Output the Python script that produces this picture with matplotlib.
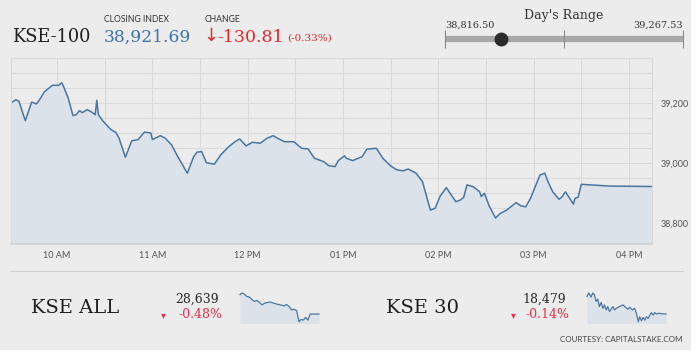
import matplotlib.pyplot as plt
import numpy as np

W, H = 696, 355

# KSE-100 intraday
kse100_time = ["09:31", "09:34", "09:36", "09:40", "09:44", "09:47", "09:49", "09:52", "09:55", "09:57",
               "10:01", "10:03", "10:04", "10:07", "10:10", "10:12", "10:14", "10:16", "10:19", "10:22",
               "10:24", "10:25", "10:26", "10:29", "10:34", "10:37", "10:39", "10:43", "10:47", "10:51",
               "10:55", "10:59", "11:00", "11:05", "11:08", "11:12", "11:16", "11:22", "11:26", "11:28",
               "11:31", "11:34", "11:39", "11:43", "11:48", "11:52", "11:55", "11:59", "12:03", "12:08",
               "12:12", "12:16", "12:19", "12:23", "12:29", "12:34", "12:38", "12:42", "12:48", "12:51",
               "12:55", "12:57", "13:01", "13:02", "13:06", "13:12", "13:15", "13:21", "13:25", "13:30",
               "13:34", "13:38", "13:41", "13:46", "13:50", "13:55", "13:58", "14:01", "14:05", "14:11",
               "14:14", "14:16", "14:18", "14:22", "14:26", "14:27", "14:29", "14:32", "14:36", "14:39",
               "14:43", "14:49", "14:52", "14:55", "14:58", "15:01", "15:04", "15:07", "15:09", "15:12",
               "15:16", "15:18", "15:20", "15:22", "15:25", "15:26", "15:28", "15:30", "15:48", "16:14"]
kse100_val = [39200, 39211, 39206, 39141, 39203, 39197, 39211, 39237, 39250, 39259,
              39259, 39267.5, 39256, 39217, 39158, 39161, 39174, 39168, 39178, 39169,
              39161, 39209, 39161, 39139, 39111, 39102, 39083, 39019, 39074, 39078,
              39103, 39100, 39078, 39091, 39083, 39061, 39021, 38966, 39021, 39036,
              39038, 39001, 38996, 39027, 39054, 39071, 39080, 39057, 39069, 39066,
              39082, 39091, 39082, 39071, 39071, 39049, 39047, 39016, 39004, 38991,
              38988, 39008, 39024, 39016, 39008, 39021, 39046, 39049, 39016, 38990,
              38977, 38974, 38980, 38966, 38938, 38843, 38849, 38888, 38918, 38871,
              38877, 38886, 38927, 38921, 38904, 38888, 38899, 38857, 38816.5, 38832,
              38843, 38868, 38857, 38854, 38882, 38921, 38960, 38966, 38938, 38904,
              38879, 38888, 38904, 38888, 38863, 38882, 38886, 38929, 38923, 38921.69]

close_100 = "38,921.69"
change_100 = "-130.81"
pct_100 = "(-0.33%)"
day_low, day_high, day_close = 38816.50, 39267.53, 38921.69

hour_ticks = [10, 11, 12, 13, 14, 15, 16]
hour_labels = ["10 AM", "11 AM", "12 PM", "01 PM", "02 PM", "03 PM", "04 PM"]
y_labels = [38800, 39000, 39200]

# KSE ALL sparkline
all_time = ["09:31", "09:41", "09:53", "10:05", "10:19", "10:33", "10:45", "10:57", "11:11", "11:23",
            "11:37", "11:51", "12:06", "12:23", "12:40", "12:57", "13:15", "13:28", "13:42", "13:54",
            "14:06", "14:20", "14:32", "14:42", "14:54", "15:06", "15:17", "15:29", "16:14"]
all_val = [28753, 28763, 28757, 28743, 28739, 28723, 28713, 28719, 28707, 28693,
           28703, 28707, 28709, 28703, 28697, 28693, 28687, 28695, 28683, 28663,
           28667, 28659, 28593, 28607, 28603, 28619, 28603, 28639, 28639]

# KSE 30 sparkline
k30_time = ["09:31", "09:40", "09:52", "10:00", "10:09", "10:17", "10:26", "10:34", "10:43", "10:52",
            "11:00", "11:09", "11:17", "11:26", "11:34", "11:43", "11:52", "12:00", "12:17", "12:34",
            "12:48", "13:00", "13:09", "13:22", "13:34", "13:43", "13:53", "14:00", "14:09", "14:17",
            "14:26", "14:34", "14:43", "14:52", "15:00", "15:09", "15:17", "15:26", "15:35", "16:14"]
k30_val = [18531, 18541, 18529, 18541, 18536, 18516, 18523, 18501, 18513, 18496,
           18506, 18491, 18501, 18486, 18493, 18501, 18491, 18496, 18501, 18506,
           18499, 18493, 18499, 18491, 18496, 18481, 18456, 18471, 18459, 18469,
           18461, 18471, 18466, 18476, 18483, 18476, 18483, 18479, 18481, 18479]


def to_hours(ts):
    return np.array([int(s[:2]) + int(s[3:]) / 60 for s in ts])


def ax_at(x0, y0, x1, y1):
    return fig.add_axes([x0 / W, 1 - y1 / H, (x1 - x0) / W, (y1 - y0) / H])


def txt(x, y, s, **kw):
    fig.text(x / W, 1 - y / H, s, **kw)


BG = "#ececec"
LINE = "#4a76a0"
FILL = "#dbe2ea"
RED = "#e0282e"
PINK = "#e8304f"
SERIF = "DejaVu Serif"

fig = plt.figure(figsize=(W / 100, H / 100), dpi=100, facecolor="white")
bg = fig.add_axes([0, 1 - 350 / H, 691 / W, 350 / H])
bg.set_facecolor(BG)
bg.set_xticks([]); bg.set_yticks([])
for s in bg.spines.values():
    s.set_visible(False)

# header
txt(12, 37, "KSE-100", family=SERIF, fontsize=12.8, color="#1e1e1e", va="center")
txt(104, 19, "CLOSING INDEX", family="Lato", fontsize=6.2, color="#333333", va="center")
txt(104, 37, close_100, family=SERIF, fontsize=12.3, color="#3d72a8", va="center")
txt(203, 36, "\u2193", family="DejaVu Sans", fontsize=13, color=RED, va="center")
txt(205, 19, "CHANGE", family="Lato", fontsize=6.2, color="#333333", va="center")
txt(217, 37, change_100, family=SERIF, fontsize=12.5, color=RED, va="center")
txt(287, 38, pct_100, family=SERIF, fontsize=7.5, color=RED, va="center")

# day's range
txt(564, 15, "Day's Range", family=SERIF, fontsize=9, color="#333333", va="center", ha="center")
txt(445, 25, f"{day_low:,.2f}", family=SERIF, fontsize=7, color="#333333", va="center")
txt(683, 25, f"{day_high:,.2f}", family=SERIF, fontsize=7, color="#333333", va="center", ha="right")
rax = ax_at(445, 30, 683, 48)
rax.set_xlim(day_low, day_high)
rax.set_ylim(-1, 1)
rax.axis("off")
rax.plot([day_low, day_high], [0, 0], color="#a8a8a8", lw=4.5, solid_capstyle="butt")
mid = (day_low + day_high) / 2
rax.vlines([day_low, mid, day_high], -1, 1, color="#8a8a8a", lw=0.8, clip_on=False)
rax.plot([day_close], [0], "o", color="#2b2b2b", ms=9, clip_on=False)

# main chart
t = to_hours(kse100_time)
ax = ax_at(11, 58, 652, 244)
ax.set_facecolor(BG)
ax.fill_between(t, kse100_val, 38730, color=FILL, lw=0)
ax.plot(t, kse100_val, color=LINE, lw=1.1)
ax.set_xlim(9 + 31 / 60, 16 + 14.5 / 60)
ax.set_ylim(38730, 39350)
ax.set_xticks(hour_ticks)
ax.set_xticklabels(hour_labels)
ax.set_xticks(np.array(hour_ticks[:-1]) + 0.5, minor=True)
yt = np.arange(38750, 39351, 50)
ax.set_yticks(yt)
ax.set_yticklabels([f"{v:,}" if v in y_labels else "" for v in yt])
ax.yaxis.tick_right()
ax.grid(True, which="both", color="#dadada", lw=0.8)
ax.set_axisbelow(True)
ax.tick_params(axis="both", which="both", length=0, labelsize=6.5, labelcolor="#555555")
ax.tick_params(axis="x", pad=5)
ax.tick_params(axis="y", pad=6)
for lbl in ax.get_xticklabels() + ax.get_yticklabels():
    lbl.set_family("Lato")
for s in ax.spines.values():
    s.set_color("#dadada")
    s.set_linewidth(0.8)
ax.spines["bottom"].set_color("#d2d2d2")
ax.spines["bottom"].set_linewidth(1.2)

# separator
fig.add_artist(plt.Line2D([11 / W, 683 / W], [1 - 271 / H] * 2, color="#cfcfcf", lw=0.8))


def spark(x0, x1, times, vals, lo, hi):
    sa = ax_at(x0, 293, x1, 323.5)
    tt = to_hours(times)
    sa.fill_between(tt, vals, lo, color=FILL, lw=0)
    sa.plot(tt, vals, color=LINE, lw=0.9, clip_on=False)
    sa.set_xlim(tt[0], tt[-1])
    sa.set_ylim(lo, hi)
    sa.axis("off")


# KSE ALL
txt(31, 308, "KSE ALL", family=SERIF, fontsize=14, color="#1e1e1e", va="center")
txt(219, 299, f"{28639:,}", family=SERIF, fontsize=9, color="#2a2a2a", va="center", ha="right")
txt(163, 315, "\u25BE", family="DejaVu Sans", fontsize=7, color=PINK, va="center", ha="center")
txt(222, 314, "-0.48%", family=SERIF, fontsize=9, color=PINK, va="center", ha="right")
spark(240, 319, all_time, all_val, 28583, 28763)

# KSE 30
txt(386, 308, "KSE 30", family=SERIF, fontsize=14, color="#1e1e1e", va="center")
txt(566, 299, f"{18479:,}", family=SERIF, fontsize=9, color="#2a2a2a", va="center", ha="right")
txt(513, 315, "\u25BE", family="DejaVu Sans", fontsize=7, color=PINK, va="center", ha="center")
txt(569, 314, "-0.14%", family=SERIF, fontsize=9, color=PINK, va="center", ha="right")
spark(587, 666, k30_time, k30_val, 18451, 18541)

txt(683, 340, "COURTESY: CAPITALSTAKE.COM", family="Lato", fontsize=5.8, color="#444444",
    va="center", ha="right")

fig.savefig("out.png", dpi=100, facecolor="white")
